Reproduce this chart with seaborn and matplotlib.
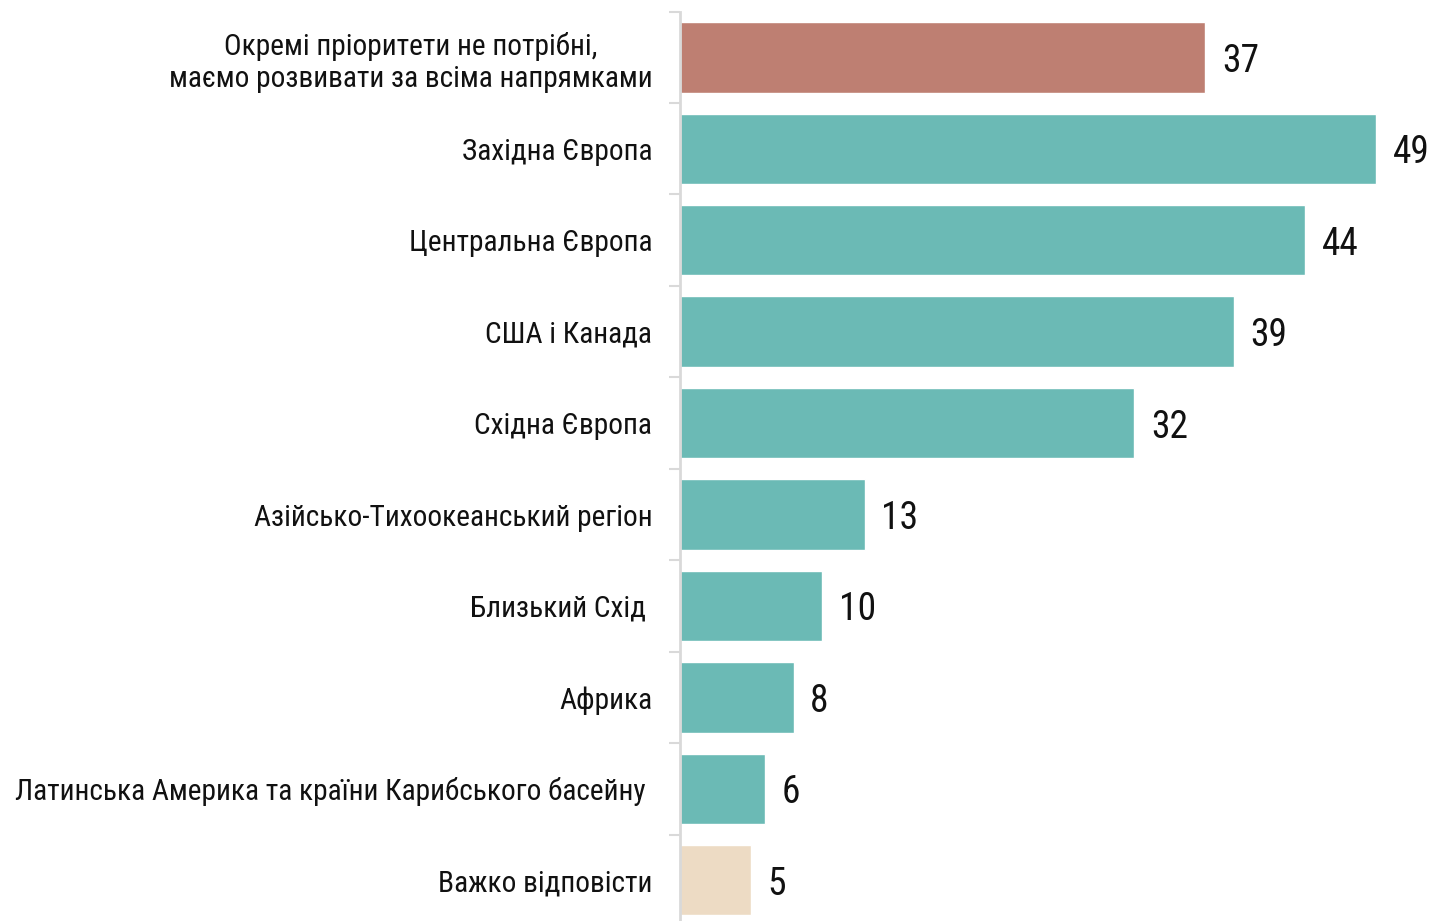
import matplotlib
matplotlib.use('Agg')
import matplotlib.pyplot as plt
from matplotlib import font_manager
import seaborn as sns
import pandas as pd
import numpy as np

categories = ['Окремі пріоритети не потрібні,\nмаємо розвивати за всіма напрямками',
              'Західна Європа',
              'Центральна Європа',
              'США і Канада',
              'Східна Європа',
              'Азійсько-Тихоокеанський регіон',
              'Близький Схід ',
              'Африка',
              'Латинська Америка та країни Карибського басейну ',
              'Важко відповісти']
values = [37, 49, 44, 39, 32, 13, 10, 8, 6, 5]
groups = ['none', 'region', 'region', 'region', 'region', 'region', 'region', 'region', 'region', 'dk']
palette = {'none': '#BE7F72', 'region': '#6BBAB5', 'dk': '#EDDBC4'}

df = pd.DataFrame({'category': categories, 'value': values, 'group': groups})

sns.set_style('white')
names = {f.name for f in font_manager.fontManager.ttflist}
fam = 'Roboto Condensed' if 'Roboto Condensed' in names else 'Roboto'
plt.rcParams['font.family'] = [fam, 'DejaVu Sans']
label_size = 21.2 if fam == 'Roboto Condensed' else 18.5
value_size = 27 if fam == 'Roboto Condensed' else 24

fig = plt.figure(figsize=(14.33, 9.21), dpi=100)
ax = fig.add_axes([680 / 1433, -5 / 921, 738.4 / 1433, 914.4 / 921])

sns.barplot(data=df, x='value', y='category', hue='group', palette=palette,
            dodge=False, legend=False, width=0.77, ax=ax, saturation=1)

ax.set_xlim(0, 52)
ax.set_ylim(len(categories) - 0.5, -0.5)
ax.set_xlabel('')
ax.set_ylabel('')
ax.set_xticks([])
ax.set_yticks(range(len(categories)))
ax.set_yticklabels(categories, fontsize=label_size, color='#111111', ha='right',
                   multialignment='center', va='center_baseline')
ax.tick_params(axis='y', which='major', left=True, length=0, pad=20)
ax.set_yticks(np.arange(-0.5, len(categories), 1), minor=True)
ax.tick_params(axis='y', which='minor', left=True, length=8, width=1.5, color='#d9d9d9')

for s in ['top', 'right', 'bottom']:
    ax.spines[s].set_visible(False)
ax.spines['left'].set_color('#d9d9d9')
ax.spines['left'].set_linewidth(2)

for i, v in enumerate(values):
    ax.annotate(str(v), (v, i), xytext=(12, 0), textcoords='offset points',
                va='center_baseline', ha='left', fontsize=value_size, color='#111111')

fig.savefig('out.png', dpi=100)
